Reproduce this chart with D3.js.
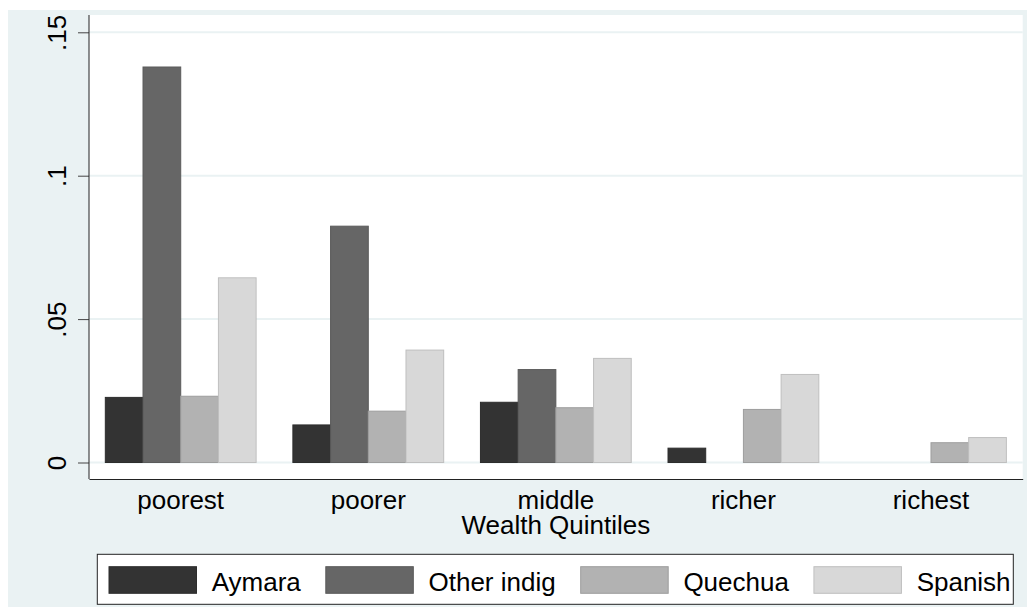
<!DOCTYPE html>
<html>
<head>
<meta charset="utf-8">
<script src="https://cdn.jsdelivr.net/npm/d3@7"></script>
<style>
  body { margin: 0; background: #fff; }
  text { font-family: "Liberation Sans", Arial, sans-serif; fill: #000; }
</style>
</head>
<body>
<div id="chart"></div>
<script>
var quintiles = ["poorest", "poorer", "middle", "richer", "richest"];
var seriesNames = ["Aymara", "Other indig", "Quechua", "Spanish"];
var aymara = [0.0227, 0.0131, 0.0210, 0.0050, 0];
var otherIndig = [0.1379, 0.0824, 0.0324, 0, 0];
var quechua = [0.0231, 0.0179, 0.0191, 0.0185, 0.0069];
var spanish = [0.0644, 0.0392, 0.0363, 0.0307, 0.0087];
var yTicks = [0, 0.05, 0.1, 0.15];
var yTickLabels = ["0", ".05", ".1", ".15"];
var colors = ["#333333", "#666666", "#b2b2b2", "#d8d8d8"];

var width = 1027,
    height = 607;

var svg = d3.select("#chart")
    .append("svg")
    .attr("width", width)
    .attr("height", height)

var values = [aymara, otherIndig, quechua, spanish]

// graph region
svg.append("rect")
    .attr("x", 8).attr("y", 10)
    .attr("width", width - 8).attr("height", height - 10)
    .attr("fill", "#eaf2f3")

var plot = { left: 89, right: 1022.7, top: 15, bottom: 479 }

svg.append("rect")
    .attr("x", plot.left).attr("y", plot.top)
    .attr("width", plot.right - plot.left).attr("height", plot.bottom - plot.top)
    .attr("fill", "#fff")

var x0 = d3.scaleBand()
    .domain(quintiles)
    .range([plot.left, plot.right])
    .paddingInner(0.196)
    .paddingOuter(0.087)

var x1 = d3.scaleBand()
    .domain(seriesNames)
    .range([0, x0.bandwidth()])

var y = d3.scaleLinear().domain([0, 0.15]).range([462.5, 32.3])

// grid lines
svg.append("g").selectAll("line")
    .data(yTicks)
    .enter().append("line")
    .attr("x1", plot.left).attr("x2", plot.right)
    .attr("y1", function(d) { return y(d) })
    .attr("y2", function(d) { return y(d) })
    .attr("stroke", "#eaf2f3")
    .attr("stroke-width", 2)

// bars
var rows = []
quintiles.forEach(function(q, i) {
    seriesNames.forEach(function(s, j) {
        rows.push({ q: q, s: s, v: values[j][i], c: colors[j] })
    })
})

svg.append("g").selectAll("rect")
    .data(rows.filter(function(d) { return d.v > 0 }))
    .enter().append("rect")
    .attr("x", function(d) { return x0(d.q) + x1(d.s) })
    .attr("width", x1.bandwidth())
    .attr("y", function(d) { return y(d.v) })
    .attr("height", function(d) { return y(0) - y(d.v) })
    .attr("fill", function(d) { return d.c })
    .attr("stroke", function(d) { return d3.color(d.c).darker(0.35) })
    .attr("stroke-width", 1)

// y axis
var yAxis = svg.append("g")
    .attr("transform", "translate(" + plot.left + ",0)")
    .call(d3.axisLeft(y).tickValues(yTicks).tickSize(11)
        .tickFormat(function(d, i) { return yTickLabels[i] }))

yAxis.select(".domain").remove()
yAxis.append("line")
    .attr("x1", 0).attr("x2", 0)
    .attr("y1", plot.top).attr("y2", plot.bottom)
    .attr("stroke", "#222")
yAxis.selectAll(".tick line").attr("stroke", "#444")
yAxis.selectAll(".tick text")
    .attr("x", 0).attr("y", -23).attr("dy", 0)
    .attr("text-anchor", "middle")
    .attr("transform", "rotate(-90)")
    .style("font-size", "26px")
    .style("font-family", "Liberation Sans, Arial, sans-serif")
    .attr("fill", "#000")

// x axis
var xAxis = svg.append("g")
    .attr("transform", "translate(0," + plot.bottom + ")")
    .call(d3.axisBottom(x0).tickSize(0).tickPadding(11.5))

xAxis.select(".domain").attr("stroke", "#222")
xAxis.selectAll(".tick text")
    .style("font-size", "26px")
    .style("font-family", "Liberation Sans, Arial, sans-serif")
    .attr("fill", "#000")

svg.append("text")
    .attr("x", (plot.left + plot.right) / 2)
    .attr("y", 534)
    .attr("text-anchor", "middle")
    .style("font-size", "26px")
    .text("Wealth Quintiles")

// legend
var legend = svg.append("g")

legend.append("rect")
    .attr("x", 97.3).attr("y", 554.3)
    .attr("width", 1013.3 - 97.3).attr("height", 50)
    .attr("fill", "#fff")
    .attr("stroke", "#222")

var lx = 109
seriesNames.forEach(function(s, j) {
    legend.append("rect")
        .attr("x", lx).attr("y", 566.7)
        .attr("width", 87.5).attr("height", 26.6)
        .attr("fill", colors[j])
        .attr("stroke", d3.color(colors[j]).darker(0.35))
    var t = legend.append("text")
        .attr("x", lx + 102.7)
        .attr("y", 591)
        .style("font-size", "26px")
        .text(s)
    lx += 102.7 + t.node().getComputedTextLength() + 25
})
</script>
</body>
</html>
